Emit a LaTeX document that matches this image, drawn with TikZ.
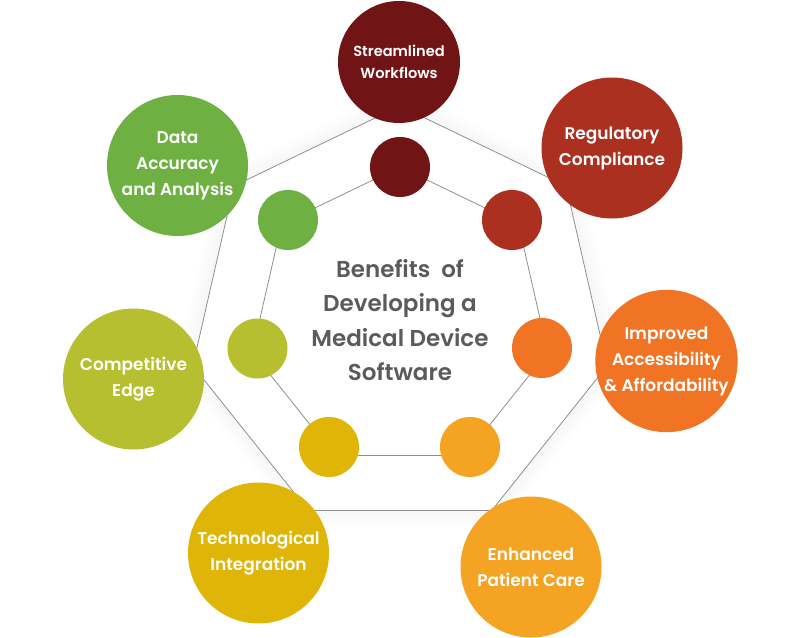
\documentclass[tikz,border=0pt]{standalone}
\usepackage{fontspec}
\setmainfont{Poppins}[BoldFont={* SemiBold}]
\usepackage{xcolor}

\definecolor{wine}{HTML}{701416}
\definecolor{rust}{HTML}{AB3020}
\definecolor{tangerine}{HTML}{F07424}
\definecolor{amber}{HTML}{F5A323}
\definecolor{mustard}{HTML}{DFB508}
\definecolor{olive}{HTML}{B6BF30}
\definecolor{leaf}{HTML}{6FB043}
\definecolor{rim}{HTML}{8E8E8E}
\definecolor{ink}{HTML}{5B5B5B}

\begin{document}
\begin{tikzpicture}
  [x=1pt,y=-1pt,
   big/.style={circle,minimum size=141pt,inner sep=0pt,text=white,align=center,
     font=\bfseries\fontsize{17}{26}\selectfont},
   small/.style={circle,minimum size=60pt,inner sep=0pt},
   rimline/.style={draw=rim,line width=0.8pt}]
  \useasboundingbox (0,0) rectangle (800,637);

  % corners of the two heptagons
  \foreach \i in {0,...,6} {
    \coordinate (o\i) at ([shift={(400,318.5)}] -90+\i*360/7:212.5);
    \coordinate (i\i) at ([shift={(400,318.5)}] -90+\i*360/7:151.5);
  }
  \def\outerrim{(o0) -- (o1) -- (o2) -- (o3) -- (o4) -- (o5) -- (o6) -- cycle}

  % soft glow round the outer heptagon
  \foreach \w in {8,16,24,32}
    \draw[black,opacity=.007,line width=\w pt,line join=round] \outerrim;
  \fill[white] \outerrim;

  \foreach \from/\to in {o0/o1,o1/o2,o2/o3,o3/o4,o4/o5,o5/o6,o6/o0,
                         i0/i1,i1/i2,i2/i3,i3/i4,i4/i5,i5/i6,i6/i0}
    \draw[rimline] (\from) -- (\to);

  \node (s1) [small,fill=wine]      at (400,167)   {};
  \node (s2) [small,fill=rust]      at (512,220)   {};
  \node (s3) [small,fill=tangerine] at (542,348)   {};
  \node (s4) [small,fill=amber]     at (470,447)   {};
  \node (s5) [small,fill=mustard]   at (329,447)   {};
  \node (s6) [small,fill=olive]     at (257.5,348.5) {};
  \node (s7) [small,fill=leaf]      at (288,220)   {};

  \node (b1) [big,fill=wine,minimum size=122pt,
              font=\bfseries\fontsize{14.6}{21.5}\selectfont]
              at (399,62)  {Streamlined\\Workflows};
  \node (b2) [big,fill=rust]      at (612,148) {Regulatory\\Compliance};
  \node (b3) [big,fill=tangerine] at (666.5,361) {Improved\\Accessibility\\\& Affordability};
  \node (b4) [big,fill=amber]     at (531,567) {Enhanced\\Patient Care};
  \node (b5) [big,fill=mustard]   at (258.5,553) {Technological\\Integration};
  \node (b6) [big,fill=olive]     at (133.5,379) {Competitive\\Edge};
  \node (b7) [big,fill=leaf]      at (177.5,165.5) {Data\\Accuracy\\and Analysis};

  \node (title) [text=ink,align=center,font=\bfseries\fontsize{23}{34.5}\selectfont]
    at (400,320) {Benefits\ \ of\\Developing a\\Medical Device\\Software};

\end{tikzpicture}
\end{document}
